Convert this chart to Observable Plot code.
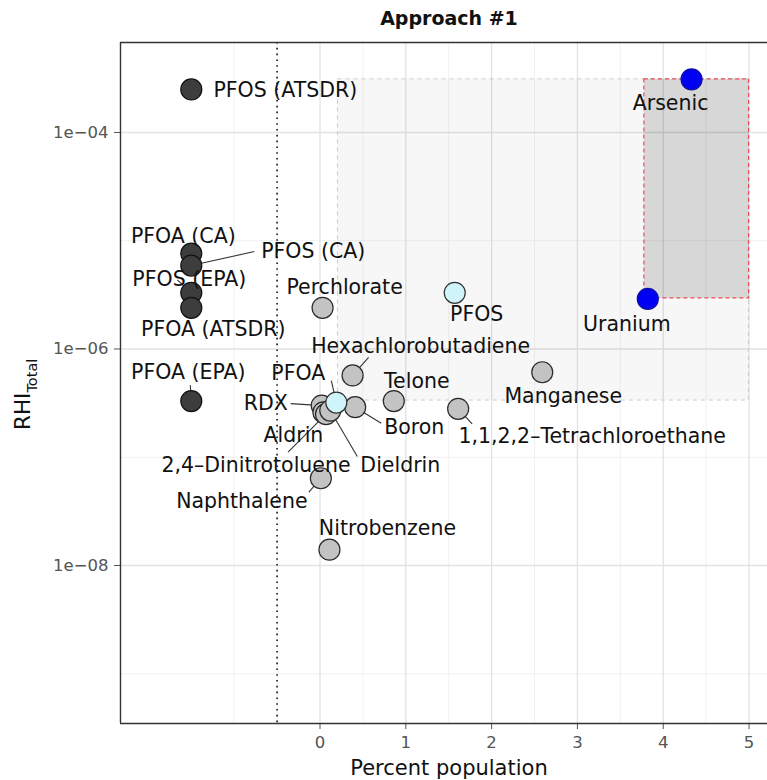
<!DOCTYPE html>
<html>
<head>
<meta charset="utf-8">
<script src="https://cdn.jsdelivr.net/npm/d3@7"></script>
<script src="https://cdn.jsdelivr.net/npm/@observablehq/plot@0.6"></script>
<style>
  html, body { margin: 0; padding: 0; background: #fff; }
  #wrap { width: 767px; height: 780px; overflow: hidden; position: relative; font-family: "DejaVu Sans", sans-serif; }
  #title { position: relative; height: 40px; }
  #title span { position: absolute; left: 449px; top: 9px; transform: translateX(-50%); font-weight: bold; font-size: 19px; line-height: 19px; color: #111; white-space: nowrap; }
</style>
</head>
<body>
<div id="wrap">
  <div id="title"><span>Approach #1</span></div>
  <div id="chart"></div>
</div>
<script>
// ---- data ----
const chemical = ["PFOS (ATSDR)", "PFOA (CA)", "PFOS (CA)", "PFOS (EPA)", "PFOA (ATSDR)", "PFOA (EPA)",
  "Perchlorate", "Hexachlorobutadiene", "RDX", "Aldrin", "2,4–Dinitrotoluene", "Dieldrin", "Boron",
  "Telone", "1,1,2,2–Tetrachloroethane", "Manganese", "Naphthalene", "Nitrobenzene",
  "PFOS", "PFOA", "Uranium", "Arsenic"];
const percentPopulation = [-1.5, -1.5, -1.5, -1.5, -1.5, -1.5,
  0.03, 0.38, 0.02, 0.04, 0.07, 0.12, 0.41,
  0.86, 1.61, 2.59, 0.01, 0.11,
  1.57, 0.19, 3.82, 4.33];
const rhiTotal = [2.5e-4, 7.6e-6, 5.9e-6, 3.3e-6, 2.4e-6, 3.3e-7,
  2.4e-6, 5.7e-7, 3.0e-7, 2.6e-7, 2.5e-7, 2.7e-7, 2.9e-7,
  3.3e-7, 2.8e-7, 6.1e-7, 6.4e-8, 1.4e-8,
  3.3e-6, 3.2e-7, 2.9e-6, 3.1e-4];
const group = ["guideline", "guideline", "guideline", "guideline", "guideline", "guideline",
  "other", "other", "other", "other", "other", "other", "other",
  "other", "other", "other", "other", "other",
  "pfas", "pfas", "top", "top"];

const xTicks = [0, 1, 2, 3, 4, 5];
const xTickLabels = ["0", "1", "2", "3", "4", "5"];
const xMinor = [-1, -0.5, 0.5, 1.5, 2.5, 3.5, 4.5];
const yTicks = [1e-4, 1e-6, 1e-8];
const yTickLabels = ["1e−04", "1e−06", "1e−08"];
const yMinor = [1e-5, 1e-7, 1e-9];
const thresholdX = [-0.5];
const lightRegion = {x1: [0.21], x2: [5], y1: [3.34e-7], y2: [3.1e-4]};
const darkRegion = {x1: [3.78], x2: [5], y1: [2.93e-6], y2: [3.1e-4]};

// ---- layout (label offsets in px from point; segment end offsets) ----
const labelDx = [94, -8, 122, -2, 22, -3, 22, 68, -56, -30, -70, 70, 59, 23, 134, 21, -79, 58, 22, -38, -21, -21];
const labelDy = [1, -17, -14, -13, 22, -29, -20, -29, -2, 23, 51, 55, 20, -20, 28, 24, 23, -21, 22, -29, 25, 24];
const segDx = [null, null, 63, -14, null, -1, null, 16, -31, null, -38, 27, 26, null, 14, null, -12, null, null, -5, null, null];
const segDy = [null, null, -14, -13, null, -16, null, -18, -2, null, 38, 46, 16, null, 15, null, 14, null, null, -22, null, null];

const W = 767, H = 740, mL = 120, mR = 0, mT = 2, mB = 57;
const xDomain = [-2.325, 5.215];
const yDomain = [Math.pow(10, -9.4596), Math.pow(10, -3.1686)];
const xs = d3.scaleLinear().domain(xDomain).range([mL, W - mR]);
const ys = d3.scaleLog().domain(yDomain).range([H - mB, mT]);

const groupOrder = {guideline: 0, other: 1, pfas: 2, top: 3};
const fills = {guideline: "#3d3d3d", other: "#c3c3c3", pfas: "#cff4fa", top: "#0000f2"};
const strokes = {guideline: "#111", other: "#2a2a2a", pfas: "#333", top: "#1010a0"};

const pts = chemical.map((name, i) => {
  const px = xs(percentPopulation[i]), py = ys(rhiTotal[i]);
  return {
    name, x: percentPopulation[i], y: rhiTotal[i], g: group[i],
    lx: xs.invert(px + labelDx[i]), ly: ys.invert(py + labelDy[i]),
    sx: segDx[i] == null ? null : xs.invert(px + segDx[i]),
    sy: segDy[i] == null ? null : ys.invert(py + segDy[i])
  };
}).sort((a, b) => groupOrder[a.g] - groupOrder[b.g]);
const segs = pts.filter(d => d.sx != null);

const rect = (r) => [{x1: r.x1[0], x2: r.x2[0], y1: r.y1[0], y2: r.y2[0]}];

const svg = Plot.plot({
  width: W, height: H,
  marginLeft: mL, marginRight: mR, marginTop: mT, marginBottom: mB,
  style: {fontFamily: "DejaVu Sans", fontSize: "16.5px", color: "#555", background: "white", overflow: "visible"},
  x: {domain: xDomain, ticks: xTicks, tickFormat: d => xTickLabels[xTicks.indexOf(d)], tickSize: 6, tickPadding: 7, label: null},
  y: {type: "log", domain: yDomain, ticks: yTicks, tickFormat: d => yTickLabels[yTicks.indexOf(d)], tickSize: 6, tickPadding: 6, label: null},
  marks: [
    Plot.ruleX(xMinor, {stroke: "#efefef", strokeWidth: 0.9}),
    Plot.ruleY(yMinor, {stroke: "#efefef", strokeWidth: 0.9}),
    Plot.ruleX(xTicks, {stroke: "#e2e2e2", strokeWidth: 1.3}),
    Plot.ruleY(yTicks, {stroke: "#e2e2e2", strokeWidth: 1.3}),
    Plot.rect(rect(lightRegion), {x1: "x1", x2: "x2", y1: "y1", y2: "y2", fill: "#000", fillOpacity: 0.03, stroke: "#cccccc", strokeWidth: 1, strokeDasharray: "4,4"}),
    Plot.rect(rect(darkRegion), {x1: "x1", x2: "x2", y1: "y1", y2: "y2", fill: "#000", fillOpacity: 0.13, stroke: "#ef4d55", strokeWidth: 1.2, strokeDasharray: "4,3"}),
    Plot.ruleX(thresholdX, {stroke: "#222", strokeWidth: 1.7, strokeDasharray: "1.6,4.2"}),
    Plot.link(segs, {x1: "x", y1: "y", x2: "sx", y2: "sy", stroke: "#333", strokeWidth: 1.1}),
    Plot.dot(pts, {x: "x", y: "y", r: 10.5, fill: d => fills[d.g], stroke: d => strokes[d.g], strokeWidth: 1.2}),
    Plot.text(pts, {x: "lx", y: "ly", text: "name", fontSize: 20.5, fill: "#111"}),
    Plot.ruleX([xDomain[0]], {stroke: "#333", strokeWidth: 1.4}),
    Plot.ruleY([yDomain[0], yDomain[1]], {stroke: "#333", strokeWidth: 1.4})
  ]
});

const s = d3.select(svg);
s.append("text").attr("x", 449).attr("y", 735).attr("text-anchor", "middle")
  .attr("font-size", 21).attr("fill", "#111").text("Percent population");
const yt = s.append("text").attr("transform", "translate(30,390) rotate(-90)")
  .attr("text-anchor", "start").attr("fill", "#111");
yt.append("tspan").attr("font-size", 21.5).text("RHI");
yt.append("tspan").attr("font-size", 14.5).attr("dy", 7).text("Total");

document.getElementById("chart").appendChild(svg);
</script>
</body>
</html>
